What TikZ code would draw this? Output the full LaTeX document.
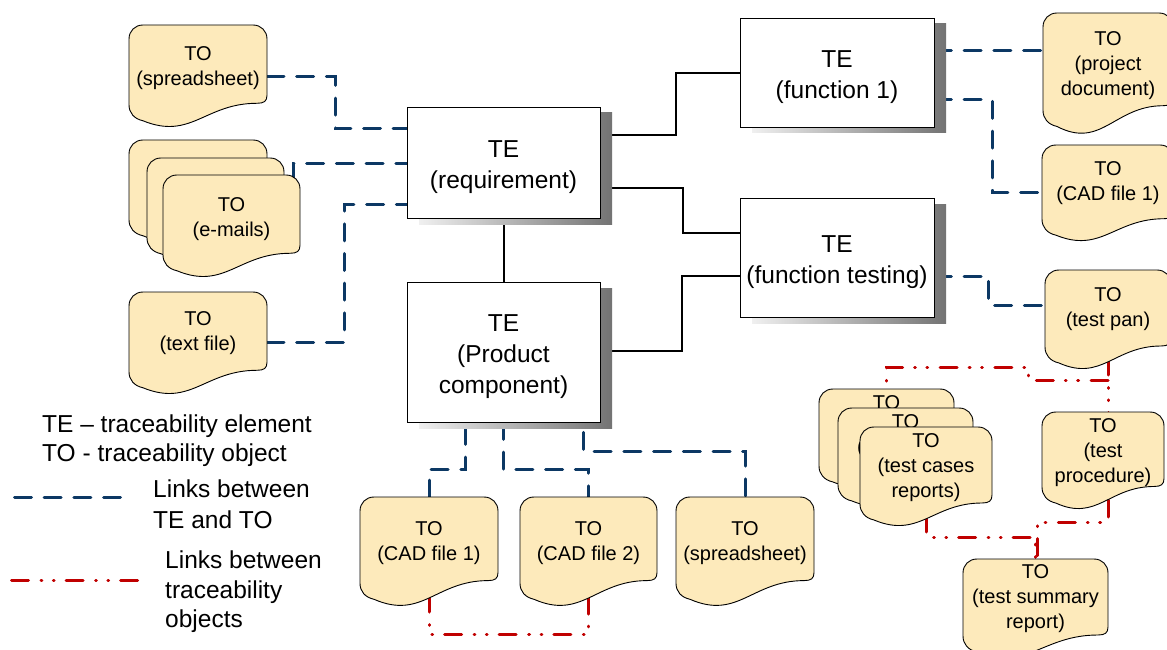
\documentclass[tikz,border=0pt]{standalone}
\usepackage{fontspec}
\setmainfont{Liberation Sans}
\usetikzlibrary{calc}
\pgfdeclarelayer{background}
\pgfsetlayers{background,main}
\definecolor{linkblue}{RGB}{12,56,100}
\definecolor{linkred}{RGB}{192,0,0}
\definecolor{tofill}{RGB}{253,234,187}
\definecolor{shadowdark}{RGB}{115,115,115}

\tikzset{
  tebox/.style={draw=black, line width=0.9pt, fill=white, inner sep=0pt},
  tetext/.style={inner sep=0pt, align=center, font=\fontsize{24.5}{31}\selectfont},
  toanchor/.style={inner sep=0pt, outer sep=0pt},
  totext/.style={inner sep=0pt, align=center, font=\fontsize{20}{25}\selectfont},
  toshape/.style={draw=black, line width=0.9pt, fill=tofill},
  telink/.style={draw=black, line width=2pt},
  bluelink/.style={draw=linkblue, line width=3pt, line cap=round, dash pattern=on 17pt off 12.7pt},
  redlink/.style={draw=linkred, line width=3pt, line cap=round,
                  dash pattern=on 17pt off 12.5pt on 0.8pt off 11.5pt on 0.8pt off 12pt},
  legend/.style={inner sep=0pt, anchor=base west, font=\fontsize{24.5}{30}\selectfont},
}

% name, x, y, w, h, text centre offset, text
\newcommand{\TOobj}[7]{%
  \begin{scope}[shift={(#2,#3)}]
    \path[toshape] (14,0) -- ({#4-14},0) .. controls ({#4-6},0) and (#4,6) .. (#4,14)
      -- (#4,{0.76*#5-8}) .. controls (#4,{0.76*#5-2}) and ({#4-3},{0.76*#5}) .. ({#4-10},{0.76*#5})
      .. controls ({0.55*#4},{0.76*#5}) and ({0.45*#4},{1.12*#5}) .. (14,{0.93*#5})
      .. controls (5,{0.93*#5-2}) and (0,{0.93*#5-8}) .. (0,{0.93*#5-16})
      -- (0,14) .. controls (0,6) and (6,0) .. (14,0) -- cycle;
  \end{scope}
  \node[toanchor, minimum width=#4, minimum height=#5] (#1) at ({#2+#4/2},{#3+#5/2}) {};
  \node[totext] (#1-t) at ({#2+#4/2},{#3+#6+3.5}) {#7};
}

% name, x1, y1, x2, y2, text
\newcommand{\TEbox}[6]{%
  \shade[left color=gray!12, right color=shadowdark] ({#2+12},{#3+6}) rectangle ({#4+12},{#5+6});
  \node[tebox, minimum width={#4-#2}, minimum height={#5-#3}] (#1) at ({(#2+#4)/2},{(#3+#5)/2}) {};
  \node[tetext] (#1-t) at ({(#2+#4)/2},{(#3+#5)/2+4.5}) {#6};
}

\begin{document}
\begin{tikzpicture}[x=1pt,y=-1pt]
\useasboundingbox (0,0) rectangle (1167,650);
\clip (0,0) rectangle (1167,650);

% traceability elements
\TEbox{req}{407}{107}{600}{218}{TE\\(requirement)}
\TEbox{fn1}{740}{18}{934}{127}{TE\\(function 1)}
\TEbox{fnt}{740}{198}{934}{317}{TE\\(function testing)}
\TEbox{pc}{407}{282}{600}{422}{TE\\(Product\\component)}

% traceability objects
\TOobj{sp1}{129}{25}{138}{103}{39.5}{TO\\(spreadsheet)}
\TOobj{em3}{129}{140}{138}{103}{41}{}
\TOobj{em2}{147}{158}{137}{103}{41}{}
\TOobj{em1}{163}{175}{137}{103}{41}{TO\\(e-mails)}
\TOobj{txt}{129}{292}{138}{103}{37.5}{TO\\(text file)}
\TOobj{proj}{1043}{13}{130}{122}{49}{TO\\(project\\document)}
\TOobj{cadR}{1042}{145}{132}{97}{35}{TO\\(CAD file 1)}
\TOobj{pan}{1045}{270}{126}{100}{36}{TO\\(test pan)}
\TOobj{cases3}{819}{389}{135}{100}{37.5}{TO\\(test cases\\reports)}
\TOobj{cases2}{838}{408}{135}{100}{37.5}{TO\\(test cases\\reports)}
\TOobj{cases1}{860}{427}{132}{100}{37.5}{TO\\(test cases\\reports)}
\TOobj{proc}{1042}{412}{122}{98}{37.5}{TO\\(test\\procedure)}
\TOobj{summ}{963}{559}{145}{100}{36}{TO\\(test summary\\report)}
\TOobj{cad1}{360}{497}{138}{110}{43}{TO\\(CAD file 1)}
\TOobj{cad2}{520}{497}{137}{110}{43}{TO\\(CAD file 2)}
\TOobj{sp2}{676}{497}{138}{110}{43}{TO\\(spreadsheet)}

\begin{pgfonlayer}{background}
  % TE - TE links
  \draw[telink] (req.east |- 0,135) -- ++(76,0) |- (fn1.west |- 0,73);
  \draw[telink] (req.east |- 0,188) -- ++(83,0) |- (fnt.west |- 0,233);
  \draw[telink] (pc.east |- 0,351) -- ++(82,0) |- (fnt.west |- 0,276);
  \draw[telink] (req.south) -- (pc.north);
  % TE - TO links
  \draw[bluelink] (sp1.east |- 0,77) -- ++(68,0) |- (req.west |- 0,129);
  \draw[bluelink] ($(em1.north east)+(-7,4)$) |- (req.west |- 0,163);
  \draw[bluelink] (txt.east |- 0,342) -- ++(77,0) |- (req.west |- 0,204);
  \draw[bluelink] (fn1.east |- 0,51) -- (proj.west |- 0,51);
  \draw[bluelink] (fn1.east |- 0,100) -- ++(58,0) |- (cadR.west |- 0,192);
  \draw[bluelink] (fnt.east |- 0,276) -- ++(54,0) |- (pan.west |- 0,305);
  \draw[bluelink] ($(pc.south)+(-38,5)$) -- ++(0,42) -| (cad1.north);
  \draw[bluelink] (pc.south) -- ++(0,47) -| (cad2.north);
  \draw[bluelink] ($(pc.south)+(80,10)$) -- ++(0,19) -| (sp2.north);
  % TO - TO links
  \draw[redlink] ($(cad1.south)+(0,-12)$) |- ($(cad2.south)+(0,27)$) -- ($(cad2.south)+(0,-14)$);
  \draw[redlink] ($(pan.south)+(0,-12)$) -- ($(proc.north)+(5,3)$);
  \draw[redlink] ($(pan.south)+(0,10)$) -| ($(cases3.north)+(141.5,-22)$) -| ($(cases3.north)+(0,3)$);
  \draw[redlink] ($(proc.south)+(5,-10)$) |- ($(summ.north)+(2,-37)$) -- ($(summ.north)+(2,3)$);
  \draw[redlink] ($(cases1.south)+(0,-12)$) |- ($(summ.north)+(0,-22)$) -- ($(summ.north)+(0,3)$);
\end{pgfonlayer}

% legend
\node[legend] (l1) at (42,432) {TE – traceability element};
\node[legend] (l2) at (42,461) {TO - traceability object};
\coordinate (lb1) at (14.5,497);
\coordinate (lb2) at (120.5,497);
\draw[bluelink] (lb1) -- (lb2);
\node[legend] (l3) at (153,497) {Links between};
\node[legend] (l4) at (153,528) {TE and TO};
\coordinate (lr1) at (11.5,580);
\coordinate (lr2) at (138,580);
\draw[redlink] (lr1) -- (lr2);
\node[legend] (l5) at (165,568) {Links between};
\node[legend] (l6) at (165,598) {traceability};
\node[legend] (l7) at (165,627) {objects};
\end{tikzpicture}
\end{document}
